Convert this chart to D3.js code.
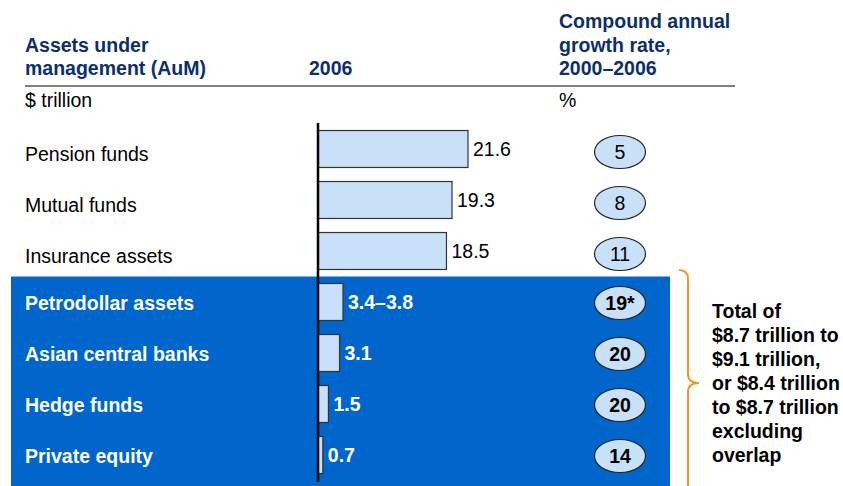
<!DOCTYPE html>
<html>
<head>
<meta charset="utf-8">
<script src="https://cdn.jsdelivr.net/npm/d3@7"></script>
<style>
  body { margin: 0; background: #fff; }
  svg text { font-family: "Liberation Sans", Arial, sans-serif; }
</style>
</head>
<body>
<svg id="chart"></svg>
<script>
// data
const categories = ["Pension funds", "Mutual funds", "Insurance assets", "Petrodollar assets",
    "Asian central banks", "Hedge funds", "Private equity"];
const values = [21.6, 19.3, 18.5, 3.6, 3.1, 1.5, 0.7];   // petrodollar = midpoint of 3.4–3.8
const valueLabels = ["21.6", "19.3", "18.5", "3.4–3.8", "3.1", "1.5", "0.7"];
const growthRates = ["5", "8", "11", "19*", "20", "20", "14"];
const highlighted = ["Petrodollar assets", "Asian central banks", "Hedge funds", "Private equity"];
const noteLines = ["Total of", "$8.7 trillion to", "$9.1 trillion,", "or $8.4 trillion",
    "to $8.7 trillion", "excluding", "overlap"];

const width = 843, height = 486;
const navy = "#0c2f6b";
const fs = 19.5;

const svg = d3.select("#chart").attr("width", width).attr("height", height);

const x = d3.scaleLinear().domain([0, 21.6]).range([318, 468]);
const y = d3.scaleBand().domain(categories).range([123.5, 480.5])
    .paddingInner(0.275).paddingOuter(0.1375);
const isHi = d => highlighted.includes(d);

// blue highlight band
const bandTop = y(highlighted[0]) - y.step() * y.paddingInner() / 2;
svg.append("rect")
    .attr("x", 11).attr("y", bandTop)
    .attr("width", 659).attr("height", height - bandTop)
    .attr("fill", "#0066cc");

// headers
const head = svg.append("g").attr("fill", navy).attr("font-weight", "bold").attr("font-size", fs);
head.append("text").attr("x", 25).attr("y", 52).text("Assets under");
head.append("text").attr("x", 25).attr("y", 75).text("management (AuM)");
head.append("text").attr("x", 309).attr("y", 75).text("2006");
["Compound annual", "growth rate,", "2000–2006"].forEach((t, i) => {
    head.append("text").attr("x", 559).attr("y", 28 + i * 23.5).text(t);
});

svg.append("line")
    .attr("x1", 25).attr("x2", 735).attr("y1", 86).attr("y2", 86)
    .attr("stroke", "#555").attr("stroke-width", 1.5);

svg.append("text").attr("x", 25).attr("y", 107).attr("font-size", fs).text("$ trillion");
svg.append("text").attr("x", 559).attr("y", 107).attr("font-size", fs).text("%");

// category labels
svg.selectAll(".cat").data(categories).enter().append("text")
    .attr("x", 25)
    .attr("y", d => y(d) + y.bandwidth() / 2 + (isHi(d) ? 1 : 5))
    .attr("dominant-baseline", "central")
    .attr("font-size", fs)
    .attr("font-weight", d => isHi(d) ? "bold" : "normal")
    .attr("fill", d => isHi(d) ? "#fff" : "#000")
    .text(d => d);

// bars
svg.selectAll(".bar").data(categories).enter().append("rect")
    .attr("x", x(0))
    .attr("y", d => y(d))
    .attr("width", (d, i) => x(values[i]) - x(0))
    .attr("height", y.bandwidth())
    .attr("fill", "#c9e1f8")
    .attr("stroke", "#333")
    .attr("stroke-width", 1.2);

// value labels
svg.selectAll(".val").data(categories).enter().append("text")
    .attr("x", (d, i) => x(values[i]) + 5)
    .attr("y", d => y(d) + y.bandwidth() / 2)
    .attr("dominant-baseline", "central")
    .attr("font-size", fs)
    .attr("font-weight", d => isHi(d) ? "bold" : "normal")
    .attr("fill", d => isHi(d) ? "#fff" : "#000")
    .text((d, i) => valueLabels[i]);

// axis line
svg.append("line")
    .attr("x1", x(0)).attr("x2", x(0)).attr("y1", 123).attr("y2", 482)
    .attr("stroke", "#000").attr("stroke-width", 2.5);

// growth ellipses
const g = svg.selectAll(".cagr").data(categories).enter().append("g")
    .attr("transform", d => `translate(620, ${y(d) + y.bandwidth() / 2 + (isHi(d) ? 1 : 3)})`);
g.append("ellipse")
    .attr("rx", 25.5).attr("ry", 16.5)
    .attr("fill", "#c9e1f8").attr("stroke", "#222").attr("stroke-width", 1.2);
g.append("text")
    .attr("text-anchor", "middle")
    .attr("dominant-baseline", "central")
    .attr("font-size", fs)
    .attr("font-weight", d => isHi(d) ? "bold" : "normal")
    .text((d, i) => growthRates[i]);

// orange brace
const bTop = 270, bMid = 383, bBot = 500;
svg.append("path")
    .attr("d", `M679,${bTop} Q688,${bTop} 688,${bTop + 9} L688,${bMid - 9} Q688,${bMid} 699,${bMid}
                Q688,${bMid} 688,${bMid + 9} L688,${bBot - 9} Q688,${bBot} 679,${bBot}`)
    .attr("fill", "none").attr("stroke", "#f7941d").attr("stroke-width", 2);

// note
svg.append("g").attr("font-weight", "bold").attr("font-size", fs)
    .selectAll("text").data(noteLines).enter().append("text")
    .attr("x", 712)
    .attr("y", (d, i) => 318 + i * 24)
    .text(d => d);
</script>
</body>
</html>
